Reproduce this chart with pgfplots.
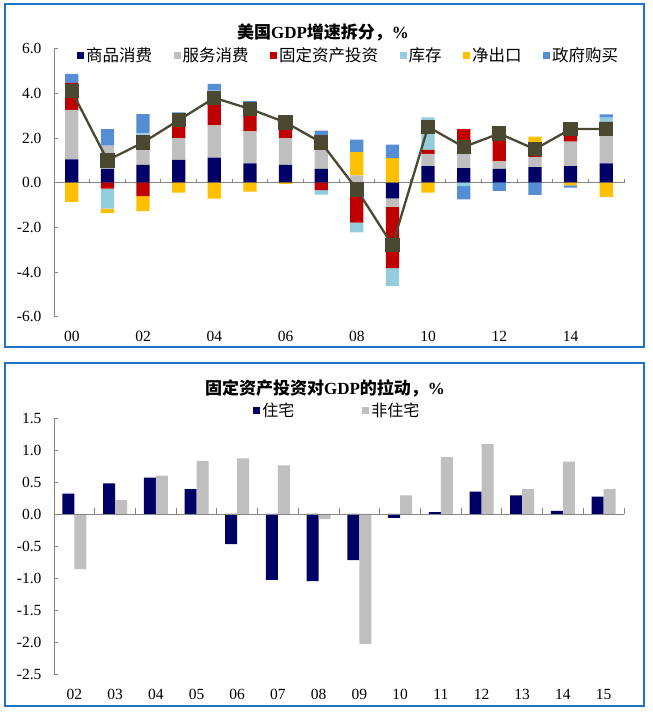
\documentclass[border=0pt]{standalone}
\usepackage{fontspec}
\setmainfont{Liberation Serif}
\newfontfamily\cjk{Noto Sans CJK SC}
\usepackage{pgfplots}
\usepackage{pgfplotstable}
\pgfplotsset{compat=1.18}

\definecolor{cGoods}{HTML}{000066}
\definecolor{cServ}{HTML}{BFBFBF}
\definecolor{cFix}{HTML}{C00000}
\definecolor{cInv}{HTML}{93CDDD}
\definecolor{cNx}{HTML}{FFC000}
\definecolor{cGov}{HTML}{558ED5}
\definecolor{cLine}{HTML}{4A4830}
\definecolor{cFrame}{HTML}{1F74C6}
\definecolor{axgray}{HTML}{868686}

% positive parts of the contributions
\pgfplotstableread{
x goods serv fix inv nx gov
0  1.04 2.22 1.21 0    0    0.40
1  0.62 1.04 0    0    0    0.74
2  0.80 1.26 0    0.15 0    0.86
3  1.02 0.98 0.85 0.10 0    0.20
4  1.12 1.45 1.13 0.42 0    0.30
5  0.87 1.43 1.24 0    0    0.12
6  0.80 1.20 0.36 0.20 0    0.30
7  0.62 0.89 0    0    0.52 0.30
8  0    0.33 0    0    1.04 0.56
9  0    0    0    0    1.10 0.60
10 0.74 0.55 0.18 1.45 0    0
11 0.65 0.67 1.08 0    0    0
12 0.62 0.34 1.44 0    0.12 0
13 0.70 0.44 0.67 0    0.25 0
14 0.74 1.10 0.81 0.05 0    0
15 0.87 1.23 0.62 0.19 0    0.15
}\pos

% negative parts of the contributions
\pgfplotstableread{
x goods serv fix inv nx gov
0  0     0     0     0     -0.86 0
1  0     0     -0.27 -0.89 -0.20 0
2  0     0     -0.60 0     -0.67 0
3  0     0     0     0     -0.45 0
4  0     0     0     0     -0.71 0
5  0     0     0     0     -0.40 0
6  0     0     0     0     -0.05 0
7  0     0     -0.33 -0.20 0     0
8  -0.55 0     -1.24 -0.43 0     0
9  -0.70 -0.37 -2.76 -0.79 0     0
10 0     0     0     0     -0.45 0
11 0     0     0     -0.15 0     -0.60
12 0     0     0     0     0     -0.37
13 0     0     0     0     0     -0.55
14 0     0     0     0     -0.12 -0.10
15 0     0     0     0     -0.63 0
}\neg

\pgfplotstableread{
x gdp
0 4.1
1 1.0
2 1.8
3 2.8
4 3.8
5 3.3
6 2.7
7 1.8
8 -0.3
9 -2.8
10 2.5
11 1.6
12 2.2
13 1.5
14 2.4
15 2.4
}\gdp

\pgfplotstableread{
x res non
0  0.32 -0.86
1  0.48 0.22
2  0.57 0.60
3  0.39 0.83
4  -0.47 0.87
5  -1.03 0.76
6  -1.05 -0.08
7  -0.72 -2.03
8  -0.06 0.29
9  0.03 0.89
10 0.35 1.09
11 0.29 0.39
12 0.05 0.82
13 0.27 0.39
}\fai

\pgfplotsset{
  sqlegend/.style={legend image code/.code={\fill[##1] (0pt,-3.5pt) rectangle (7pt,3.5pt);}},
  panel/.style={
    scale only axis, width=570pt, clip=false,
    axis y line*=left, axis x line*=bottom,
    x axis line style={draw=none}, xtick style={draw=none},
    y axis line style={axgray, line width=0.8pt},
    ytick style={axgray, line width=0.8pt},
    tick align=inside, major tick length=4pt,
    ticklabel style={font=\fontsize{15.5}{17}\selectfont},
    /pgf/number format/fixed,
    /pgf/number format/fixed zerofill,
    /pgf/number format/precision=1,
    /pgf/number format/assume math mode=true,
    yticklabel style={xshift=-9pt},
  },
  ghost/.style={scale only axis, width=570pt, hide axis, clip=false},
}

\begin{document}
\begin{tikzpicture}
\path[use as bounding box] (0,0) rectangle (653pt,713pt);

% ---------- top panel ----------
\begin{axis}[panel, at={(54pt,396.3pt)}, anchor=south west, height=268pt,
  xmin=-0.5, xmax=15.5, ymin=-6, ymax=6,
  ytick={-6,-4,...,6},
  xtick={0,2,...,14}, xticklabels={00,02,04,06,08,10,12,14},
  xticklabel style={yshift=-11pt},
  ybar stacked, bar width=0.37,
  legend style={draw=none, fill=none, at={(0.517,0.9765)}, anchor=center,
    legend columns=6, font=\cjk\fontsize{16.5}{18}\selectfont,
    /tikz/every even column/.append style={column sep=19.5pt},
    inner sep=0pt},
  legend cell align=left]
\addplot[fill=cGoods, draw=none, sqlegend] table[x=x,y=goods]{\pos};
\addlegendentry{商品消费}
\addplot[fill=cServ, draw=none, sqlegend] table[x=x,y=serv]{\pos};
\addlegendentry{服务消费}
\addplot[fill=cFix, draw=none, sqlegend] table[x=x,y=fix]{\pos};
\addlegendentry{固定资产投资}
\addplot[fill=cInv, draw=none, sqlegend] table[x=x,y=inv]{\pos};
\addlegendentry{库存}
\addplot[fill=cNx, draw=none, sqlegend] table[x=x,y=nx]{\pos};
\addlegendentry{净出口}
\addplot[fill=cGov, draw=none, sqlegend] table[x=x,y=gov]{\pos};
\addlegendentry{政府购买}
\draw[axgray, line width=0.8pt] (axis cs:-0.5,0) -- (axis cs:15.5,0);
\pgfplotsinvokeforeach{0.5,1.5,...,15.5}{
  \draw[axgray, line width=0.8pt] (axis cs:#1,0) -- ++(0pt,4pt);
}
\end{axis}

\begin{axis}[ghost, at={(54pt,396.3pt)}, anchor=south west, height=268pt,
  xmin=-0.5, xmax=15.5, ymin=-6, ymax=6,
  ybar stacked, bar width=0.37]
\addplot[fill=cGoods, draw=none] table[x=x,y=goods]{\neg};
\addplot[fill=cServ, draw=none] table[x=x,y=serv]{\neg};
\addplot[fill=cFix, draw=none] table[x=x,y=fix]{\neg};
\addplot[fill=cInv, draw=none] table[x=x,y=inv]{\neg};
\addplot[fill=cNx, draw=none] table[x=x,y=nx]{\neg};
\addplot[fill=cGov, draw=none] table[x=x,y=gov]{\neg};
\end{axis}

\begin{axis}[ghost, at={(54pt,396.3pt)}, anchor=south west, height=268pt,
  xmin=-0.5, xmax=15.5, ymin=-6, ymax=6]
\addplot[cLine, line width=2.3pt, mark=square*, mark size=6pt,
  mark options={solid, fill=cLine}] table[x=x,y=gdp]{\gdp};
\end{axis}

\node[font=\fontsize{17}{19}\selectfont\bfseries] at (323pt,681pt)
  {{\cjk 美国}GDP{\cjk 增速拆分，}\%};

% ---------- bottom panel ----------
\begin{axis}[panel, at={(54pt,39pt)}, anchor=south west, height=256pt,
  xmin=-0.5, xmax=13.5, ymin=-2.5, ymax=1.5,
  ytick={-2.5,-2,...,1.5},
  xtick={0,...,13}, xticklabels={02,03,04,05,06,07,08,09,10,11,12,13,14,15},
  xticklabel style={yshift=-8pt},
  ybar=0pt, bar width=12pt,
  legend style={draw=none, fill=none, at={(0.497,1.031)}, anchor=center,
    legend columns=2, font=\cjk\fontsize{16}{18}\selectfont,
    /tikz/every even column/.append style={column sep=66pt},
    inner sep=0pt},
  legend cell align=left]
\addplot[fill=cGoods, draw=none, sqlegend] table[x=x,y=res]{\fai};
\addlegendentry{住宅}
\addplot[fill=cServ, draw=none, sqlegend] table[x=x,y=non]{\fai};
\addlegendentry{非住宅}
\draw[axgray, line width=0.8pt] (axis cs:-0.5,0) -- (axis cs:13.5,0);
\pgfplotsinvokeforeach{0.5,1.5,...,13.5}{
  \draw[axgray, line width=0.8pt] (axis cs:#1,0) -- ++(0pt,6pt);
}
\end{axis}

\node[font=\fontsize{17}{19}\selectfont\bfseries] at (325pt,325pt)
  {{\cjk 固定资产投资对}GDP{\cjk 的拉动，}\%};

% ---------- frames ----------
\draw[cFrame, line width=2.5pt] (5pt,709pt) rectangle (644pt,366pt);
\draw[cFrame, line width=2.5pt] (5pt,350pt) rectangle (644pt,7pt);
\end{tikzpicture}
\end{document}
